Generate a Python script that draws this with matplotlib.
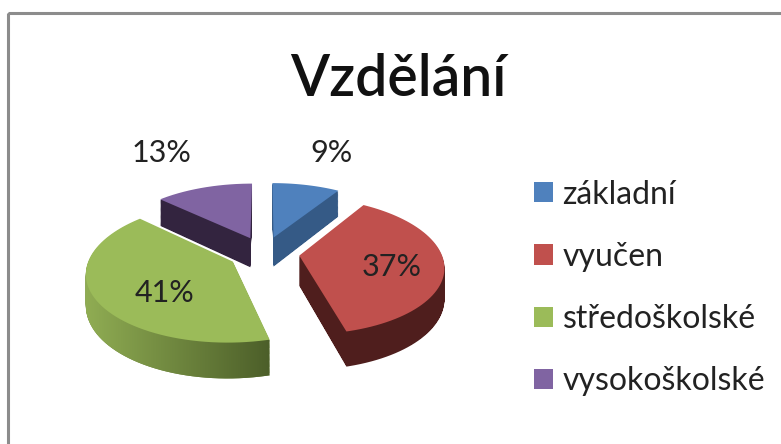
import numpy as np
import matplotlib
matplotlib.use('Agg')
import matplotlib.pyplot as plt
from matplotlib.colors import LinearSegmentedColormap
from matplotlib.patches import PathPatch, Patch, Rectangle
from matplotlib.path import Path
from matplotlib.transforms import Affine2D, Transform

title = 'Vzdělání'
categories = ['základní', 'vyučen', 'středoškolské', 'vysokoškolské']
values = [9, 37, 41, 13]
top_colors = ['#4f81bd', '#c0504d', '#9bbb59', '#8064a2']
wall_colors = ['#355a86', '#4f1e1d', '#6b8339', '#33243f']
draw_order = [2, 3, 4, 1]  # purple at the back, green and red in front

EXPLODE = 0.25
DEPTH = 30
CX, CY = 264, 253
RX, RY, TILT = 142, 66.5, 0.145

plt.rcParams['font.family'] = ['Lato', 'DejaVu Sans']


class Tilted(Transform):
    # maps the pie's unit disc onto the tilted plane, in picture pixels
    input_dims = 2
    output_dims = 2
    is_separable = False

    def __init__(self, z=0):
        super().__init__()
        self.z = z

    def transform_non_affine(self, values):
        x, y = values[:, 0], values[:, 1]
        d = 1 + TILT * y
        return np.column_stack([CX + RX * x / d, CY + (self.z - RY * y) / d])

    def transform_path_non_affine(self, path):
        # flatten first, bezier control points do not survive the tilt
        poly = path.to_polygons(Affine2D().scale(500), closed_only=True)[0] / 500
        return Path(self.transform_non_affine(poly), closed=True)


fig = plt.figure(figsize=(7.81, 4.44), dpi=100, facecolor='white')
ax = fig.add_axes([0, 0, 1, 1])

wedges, _ = ax.pie(values, explode=[EXPLODE] * len(values), startangle=90,
                   counterclock=False, colors=top_colors)

for wedge, wall, order in zip(wedges, wall_colors, draw_order):
    path = wedge.get_path()
    layers = [Tilted(z).transform_path(path) for z in range(1, DEPTH + 1)]
    wall_path = Path.make_compound_path(*layers)
    patch = PathPatch(wall_path, facecolor=wall, edgecolor='none', zorder=order * 2)
    ax.add_patch(patch)
    wedge.set_transform(Tilted() + ax.transData)
    wedge.set_zorder(order * 2 + 1)
    wedge.set_edgecolor('none')
    if wall == wall_colors[2]:
        # the long green wall fades from light to dark
        shades = np.linspace(0, 1, 256).reshape(1, -1)
        cmap = LinearSegmentedColormap.from_list('wall', ['#90ad53', '#4a5c28'])
        im = ax.imshow(shades, cmap=cmap, extent=[85, 276, 380, 220], aspect='auto',
                       zorder=order * 2 + 0.5)
        im.set_clip_path(patch)

ax.set_aspect('auto')
ax.set_xlim(0, 781)
ax.set_ylim(444, 0)
ax.axis('off')

ax.add_patch(Rectangle((8, 13), 820, 480, facecolor='none', edgecolor='#8c8c8c',
                       linewidth=2.2, zorder=20))

ax.text(398, 80, title, fontsize=41, fontweight='semibold', ha='center', va='center',
        color='#111111', zorder=21)

label_x = [332, 392, 165, 162]
label_y = [153, 267, 293, 153]
for v, lx, ly in zip(values, label_x, label_y):
    ax.text(lx, ly, '%d%%' % v, fontsize=22, ha='center', va='center', color='#222222', zorder=21)

handles = [Patch(facecolor=c, edgecolor='none') for c in top_colors]
ax.legend(handles, categories, loc='center left', bbox_to_anchor=(505 / 781, 1 - 288 / 444),
          frameon=False, fontsize=23, labelspacing=1.01, handlelength=0.6, handleheight=0.6,
          handletextpad=0.3, labelcolor='#222222')

fig.savefig('out.png', dpi=100)
